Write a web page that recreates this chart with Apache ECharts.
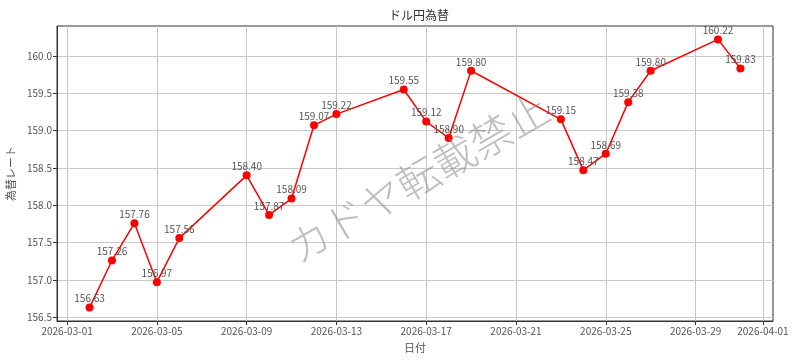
<!DOCTYPE html>
<html><head><meta charset="utf-8">
<script src="https://cdn.jsdelivr.net/npm/echarts@6/dist/echarts.min.js"></script>
<style>html,body{margin:0;padding:0;background:#fff}#c{width:800px;height:364px}</style>
</head><body><div id="c"></div>
<script>
const dates = ['2026-03-02','2026-03-03','2026-03-04','2026-03-05','2026-03-06','2026-03-09','2026-03-10','2026-03-11','2026-03-12','2026-03-13','2026-03-16','2026-03-17','2026-03-18','2026-03-19','2026-03-23','2026-03-24','2026-03-25','2026-03-26','2026-03-27','2026-03-30','2026-03-31'];
const rates = [156.63,157.26,157.76,156.97,157.56,158.40,157.87,158.09,159.07,159.22,159.55,159.12,158.90,159.80,159.15,158.47,158.69,159.38,159.80,160.22,159.83];
const xTickLabels = ['2026-03-01','2026-03-05','2026-03-09','2026-03-13','2026-03-17','2026-03-21','2026-03-25','2026-03-29','2026-04-01'];
const yTicks = [156.5,157.0,157.5,158.0,158.5,159.0,159.5,160.0];

const FONT = '"Noto Sans CJK JP", "Noto Sans", sans-serif';
const ts = s => Date.parse(s + 'T00:00:00Z');
const xTs = xTickLabels.map(ts);
const labelOf = {};
xTickLabels.forEach((l, i) => { labelOf[xTs[i]] = l; });
const x0 = ts(dates[0]), x1 = ts(dates[dates.length - 1]);
const xPad = (x1 - x0) * 0.05;
const yMinD = Math.min(...rates), yMaxD = Math.max(...rates);
const yPad = (yMaxD - yMinD) * 0.05;

const chart = echarts.init(document.getElementById('c'), null, {renderer: 'canvas'});
chart.setOption({
  animation: false,
  textStyle: {fontFamily: FONT},
  title: {
    text: 'ドル円為替', left: 414, top: 4, textAlign: 'center',
    textStyle: {fontFamily: FONT, fontSize: 12, fontWeight: 'normal', color: '#333'}
  },
  grid: {left: 57, right: 27, top: 26, bottom: 43, containLabel: false, outerBoundsMode: 'none', show: true, borderColor: '#333', borderWidth: 1, backgroundColor: 'transparent'},
  xAxis: {
    type: 'value', min: x0 - xPad, max: x1 + xPad,
    name: '日付', nameLocation: 'middle', nameGap: 21,
    nameTextStyle: {fontFamily: FONT, fontSize: 11, color: '#555'},
    axisLine: {show: true, onZero: false, lineStyle: {color: '#333', width: 1}},
    axisTick: {show: true, length: 4, lineStyle: {color: '#333'}, customValues: xTs},
    axisLabel: {customValues: xTs, formatter: v => labelOf[v] || '', fontFamily: FONT, fontSize: 10, color: '#555', margin: 5, showMinLabel: true, showMaxLabel: true, hideOverlap: false},
    splitLine: {show: true, lineStyle: {color: '#c8c8c8', width: 1}}
  },
  yAxis: {
    type: 'value', min: yMinD - yPad, max: yMaxD + yPad,
    name: '為替レート', nameLocation: 'middle', nameGap: 34, nameRotate: 90,
    nameTextStyle: {fontFamily: FONT, fontSize: 11, color: '#555'},
    axisLine: {show: true, onZero: false, lineStyle: {color: '#333', width: 1}},
    axisTick: {show: true, length: 4, lineStyle: {color: '#333'}, customValues: yTicks},
    axisLabel: {customValues: yTicks, formatter: v => Number(v).toFixed(1), fontFamily: FONT, fontSize: 10, color: '#555', margin: 5},
    splitLine: {show: true, lineStyle: {color: '#c8c8c8', width: 1}}
  },
  graphic: [{
    type: 'text', x: 418, y: 178, rotation: Math.PI / 6, z: 100,
    style: {text: 'カドヤ転載禁止', fontFamily: FONT, fontSize: 42, fontWeight: 300, fill: 'rgba(128,128,128,0.5)', align: 'center', verticalAlign: 'middle'}
  }],
  series: [{
    type: 'line',
    data: dates.map((d, i) => [ts(d), rates[i]]),
    symbol: 'circle', symbolSize: 8,
    lineStyle: {color: '#ff0000', width: 1.5},
    itemStyle: {color: '#ff0000'},
    label: {show: true, position: 'top', distance: 0, offset: [0, 3], formatter: p => p.value[1].toFixed(2), fontFamily: FONT, fontSize: 10, color: '#555'},
    labelLayout: {hideOverlap: false}
  }]
});
</script></body></html>
